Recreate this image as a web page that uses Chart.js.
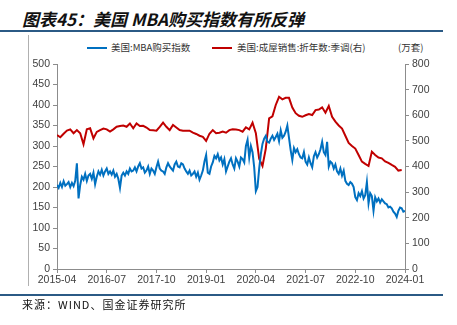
<!DOCTYPE html>
<html>
<head>
<meta charset="utf-8">
<script src="https://cdn.jsdelivr.net/npm/chart.js@4.4.1/dist/chart.umd.min.js"></script>
<style>
  html, body { margin: 0; padding: 0; background: #fff; }
  body { width: 457px; height: 325px; position: relative; overflow: hidden; font-family: "Noto Sans CJK SC", sans-serif; }
  .title { position: absolute; left: 22px; top: 6px; font-size: 17px; font-weight: bold; font-style: italic; color: #111; white-space: nowrap; }
  .rule { position: absolute; left: 0; width: 443px; height: 2px; background: #2b5a85; }
  .vline { position: absolute; left: 28px; top: 35px; width: 1px; height: 251px; background: #b0b0b0; }
  .legend { position: absolute; top: 40px; font-size: 9.5px; color: #333; white-space: nowrap; }
  .swatch { position: absolute; top: 47px; width: 20px; height: 2px; }
  .source { position: absolute; left: 22px; top: 296px; font-size: 11px; letter-spacing: 1px; color: #111; white-space: nowrap; }
  #wrap { position: absolute; left: 0; top: 0; width: 457px; height: 325px; }
</style>
</head>
<body>
<div class="title">图表45：美国 MBA购买指数有所反弹</div>
<div class="rule" style="top:30px"></div>
<div class="vline"></div>
<div class="swatch" style="left:87px;background:#0070c0"></div>
<div class="legend" style="left:111px">美国:MBA购买指数</div>
<div class="swatch" style="left:212px;background:#c00000"></div>
<div class="legend" style="left:237px">美国:成屋销售:折年数:季调(右)</div>
<div class="legend" style="left:398px">(万套)</div>
<div id="wrap"><canvas id="chart"></canvas></div>
<div class="rule" style="top:294px"></div>
<div class="source">来源：WIND、国金证券研究所</div>
<script>
// x ticks every 15 months starting 2015-04
const tickLabels = ["2015-04", "2016-07", "2017-10", "2019-01", "2020-04", "2021-07", "2022-10", "2024-01"]

// MBA purchase index, two readings per month from 2015-04
const mbaIndex = [
  205, 198, 210, 200, 214, 203, 207, 212, 200, 210, 202, 215, 258, 172, 205, 225, 218, 232,
  215, 228, 232, 220, 235, 207, 225, 238, 230, 242, 228, 238, 245, 232, 238, 230, 240, 225,
  232, 220, 198, 228, 235, 228,
  238, 232, 245, 238, 240, 248, 238, 250, 258, 245, 248, 235, 240, 250, 232, 245, 240, 232,
  248, 262, 245, 240, 238, 232,
  248, 258, 250, 245, 240, 255, 262, 250, 248, 258, 255, 245, 238, 232, 240, 228, 232, 238,
  225, 235, 218, 228, 240, 262,
  278, 235, 232, 250, 260, 276, 270, 280, 265, 272, 255, 268, 238, 250, 262, 270, 255, 245,
  270, 262, 250, 272, 268, 260,
  300, 315, 272, 300, 285, 248, 190, 200, 245, 280, 305, 318, 325, 310, 308, 318, 325, 315,
  322, 330, 312, 338, 320, 325,
  335, 350, 320, 290, 266, 295, 285, 292, 280, 272, 270, 285, 262, 255, 272, 258, 248, 275,
  285, 272, 280, 292, 310, 285,
  278, 310, 250, 262, 258, 245, 255, 238, 232, 245, 228, 240, 215, 208, 205, 212, 208, 200,
  175, 168, 185, 178, 190, 172,
  180, 212, 160, 185, 178, 142, 175, 165, 172, 162, 170, 165, 160, 158, 150, 152, 148, 140,
  135, 127, 142, 150, 148, 140,
  142
]

// existing home sales, SAAR, 10k units, monthly
const homeSales = [
  523, 514, 528, 540, 545, 530, 542, 530, 487, 545, 549, 510,
  535, 542, 548, 545, 536, 545, 555, 558, 560, 555, 568, 549,
  568, 558, 559, 552, 542, 541, 540, 555, 571, 555, 542, 562,
  552, 542, 540, 540, 540, 532, 527, 520, 516, 500, 528, 542,
  530, 532, 536, 532, 542, 545, 544, 542, 536, 553, 545, 571,
  530, 430, 402, 470, 588, 596, 640, 672, 662, 668, 668, 630,
  608, 598, 594, 600, 605, 601, 620, 622, 631, 610, 636, 594,
  575, 560, 548, 520, 492, 480, 470, 445, 419, 410, 402, 458,
  445, 435, 432, 420, 414, 406, 399, 384, 386
]

const axisColor = "#8c8c8c"
const tickFont = { family: "'Liberation Sans', Arial, sans-serif", size: 10.5 }

const mbaPoints = mbaIndex.map((v, i) => ({ x: i / 2, y: v }))
const salesPoints = homeSales.map((v, i) => ({ x: i, y: v }))

new Chart(document.getElementById("chart"), {
  type: "line",
  data: {
    datasets: [
      {
        label: "美国:MBA购买指数",
        data: mbaPoints,
        borderColor: "#0070c0",
        borderWidth: 2,
        pointRadius: 0,
        tension: 0,
        yAxisID: "y",
      },
      {
        label: "美国:成屋销售:折年数:季调(右)",
        data: salesPoints,
        borderColor: "#c00000",
        borderWidth: 2,
        pointRadius: 0,
        tension: 0,
        yAxisID: "y1",
      },
    ]
  },
  options: {
    responsive: true,
    maintainAspectRatio: false,
    animation: false,
    layout: { padding: { top: 64, left: 0, right: 0, bottom: 0 } },
    plugins: {
      legend: { display: false },
      tooltip: { enabled: false },
    },
    scales: {
      x: {
        type: "linear",
        min: 0,
        max: 105,
        afterBuildTicks: (scale) => {
          scale.ticks = tickLabels.map((_, i) => ({ value: i * 15 }))
        },
        afterFit: (scale) => { scale.height = 56 },
        ticks: {
          color: "#404040",
          font: tickFont,
          padding: 1,
          maxRotation: 0,
          autoSkip: false,
          callback: (value) => tickLabels[Math.round(value / 15)],
        },
        grid: { display: true, drawOnChartArea: false, drawTicks: true, tickLength: 4, color: axisColor },
        border: { display: true, color: axisColor },
      },
      y: {
        position: "left",
        min: 0,
        max: 500,
        afterFit: (scale) => { scale.width = 57 },
        ticks: { stepSize: 50, color: "#404040", font: tickFont, padding: 3 },
        grid: { display: true, drawOnChartArea: false, drawTicks: true, tickLength: 4, color: axisColor },
        border: { display: true, color: axisColor },
      },
      y1: {
        position: "right",
        min: 0,
        max: 800,
        afterFit: (scale) => { scale.width = 52 },
        ticks: { stepSize: 100, color: "#404040", font: tickFont, padding: 3 },
        grid: { display: true, drawOnChartArea: false, drawTicks: true, tickLength: 4, color: axisColor },
        border: { display: true, color: axisColor },
      },
    }
  }
})
</script>
</body>
</html>
